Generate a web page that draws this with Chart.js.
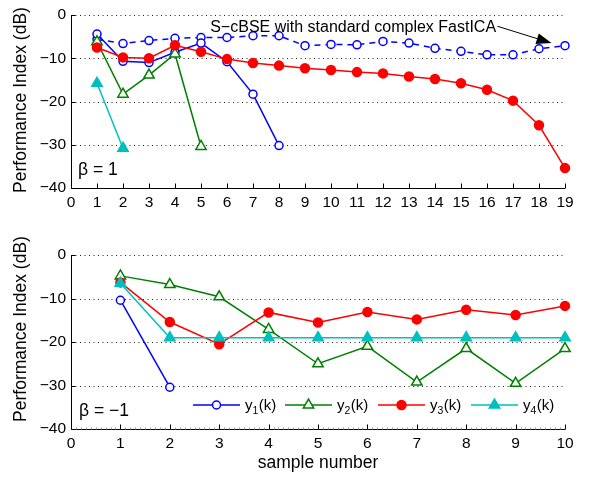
<!DOCTYPE html>
<html>
<head>
<meta charset="utf-8">
<script src="https://cdn.jsdelivr.net/npm/chart.js@4.4.1/dist/chart.umd.min.js"></script>
<style>
  html, body { margin: 0; padding: 0; background: #fff; }
  #wrap { position: relative; width: 591px; height: 477px; }
  #topChart { position: absolute; left: 0; top: 0; }
  #botChart { position: absolute; left: 0; top: 236px; }
</style>
</head>
<body>
<div id="wrap">
  <canvas id="topChart" width="591" height="236"></canvas>
  <canvas id="botChart" width="591" height="241"></canvas>
</div>
<script>
// ---- data ----
const topSamples = [1, 2, 3, 4, 5, 6, 7, 8, 9, 10, 11, 12, 13, 14, 15, 16, 17, 18, 19];
const topY1 = [-4.4, -10.7, -11.0, -8.6, -6.5, -10.8, -18.3, -30.2];
const topY2 = [-6.2, -18.3, -13.9, -9.0, -30.4];
const topY3 = [-7.5, -9.8, -10.0, -7.0, -8.5, -10.2, -11.1, -11.7, -12.3, -12.7,
               -13.2, -13.5, -14.2, -14.8, -15.8, -17.3, -19.8, -25.5, -35.4];
const topY4 = [-15.8, -30.8];
const topFastICA = [-5.6, -6.6, -5.9, -5.4, -5.2, -5.2, -4.8, -4.8, -7.1, -6.8,
                    -6.9, -6.1, -6.5, -7.7, -8.4, -9.2, -9.2, -7.8, -7.1];

const botSamples = [1, 2, 3, 4, 5, 6, 7, 8, 9, 10];
const botY1 = [-10.4, -30.4];
const botY2 = [-4.8, -6.8, -9.6, -17.1, -25.0, -21.0, -29.2, -21.5, -29.5, -21.5];
const botY3 = [-6.3, -15.4, -20.5, -13.2, -15.5, -13.1, -14.8, -12.6, -13.8, -11.7];
const botY4 = [-6.5, -19.0, -19.0, -19.0, -19.0, -19.0, -19.0, -19.0, -19.0, -19.0];

const yTicks = [0, -10, -20, -30, -40];
const seriesNames = ["1", "2", "3", "4"];   // subscripts of y_i(k)
const annotationText = "S\u2212cBSE with standard complex FastICA";
// annotation anchors in data units (top panel)
const annoText = { x: 16.35, y: -3.85 };
const annoTail = { x: 16.4, y: -2.6 };
const annoTip = { x: 18.48, y: -6.5 };

const FONT = "'Liberation Sans', Arial, Helvetica, sans-serif";
const BLUE = "#0000ff", GREEN = "#008000", RED = "#ff0000", CYAN = "#00bfbf";

const toXY = (xs, ys) => ys.map((v, i) => ({ x: xs[i], y: v }));
const minus = v => (v < 0 ? "\u2212" + Math.abs(v) : String(v));

function series(data, color, style, filled, order, dashed) {
  return {
    data: data,
    borderColor: color,
    borderWidth: 1.5,
    borderDash: dashed ? [6, 5] : [],
    pointStyle: style,
    pointRadius: style === "triangle" ? 6 : (filled ? 4.5 : 4),
    pointBorderWidth: 1.5,
    pointBorderColor: color,
    pointBackgroundColor: filled ? color : "#ffffff",
    tension: 0,
    fill: false,
    clip: false,
    order: order
  };
}

// axes frame, dotted grid, inward ticks
const framePlugin = {
  id: "frame",
  beforeDatasetsDraw(chart, args, opts) {
    const { ctx, chartArea: a, scales } = chart;
    const x = scales.x, y = scales.y;
    ctx.save();
    ctx.strokeStyle = "#222";
    ctx.lineWidth = 1;
    ctx.setLineDash([1, 3.5]);
    yTicks.forEach(t => {
      if (t === -40) return;
      const py = Math.round(y.getPixelForValue(t)) + 0.5;
      ctx.beginPath(); ctx.moveTo(a.left, py); ctx.lineTo(a.right, py); ctx.stroke();
    });
    ctx.setLineDash([]);
    ctx.strokeStyle = "#000";
    const l = Math.round(a.left) + 0.5, b = Math.round(a.bottom) + 0.5;
    ctx.beginPath(); ctx.moveTo(l, a.top); ctx.lineTo(l, b); ctx.lineTo(a.right, b); ctx.stroke();
    // minor ticks
    if (opts.minor) {
      ctx.strokeStyle = "#999";
      for (let v = x.min; v <= x.max + 1e-6; v += opts.minor) {
        const px = Math.round(x.getPixelForValue(v)) + 0.5;
        ctx.beginPath(); ctx.moveTo(px, b); ctx.lineTo(px, b - 2); ctx.stroke();
      }
      ctx.strokeStyle = "#000";
    }
    for (let v = x.min; v <= x.max; v++) {
      const px = Math.round(x.getPixelForValue(v)) + 0.5;
      ctx.beginPath(); ctx.moveTo(px, b); ctx.lineTo(px, b - 5); ctx.stroke();
    }
    yTicks.forEach(t => {
      const py = Math.round(y.getPixelForValue(t)) + 0.5;
      ctx.beginPath(); ctx.moveTo(l, py); ctx.lineTo(l + 4, py); ctx.stroke();
    });
    ctx.restore();
  },
  afterDraw(chart, args, opts) {
    const { ctx, chartArea: a } = chart;
    ctx.save();
    ctx.fillStyle = "#000";
    // y-axis title
    ctx.font = "17.5px " + FONT;
    ctx.translate(21.5, opts.yTitleY);
    ctx.rotate(-Math.PI / 2);
    ctx.textAlign = "center";
    ctx.textBaseline = "middle";
    ctx.fillText("Performance Index (dB)", 0, 0);
    ctx.restore();
    // beta label
    ctx.save();
    ctx.font = "17.5px " + FONT;
    ctx.fillStyle = "#000";
    ctx.textAlign = "left";
    ctx.textBaseline = "alphabetic";
    ctx.fillText(opts.beta, a.left + opts.betaDx, a.bottom - 13);
    ctx.restore();
  }
};

const annotationPlugin = {
  id: "anno",
  afterDraw(chart) {
    const { ctx, scales } = chart;
    const x = scales.x, y = scales.y;
    ctx.save();
    ctx.font = "16px " + FONT;
    ctx.fillStyle = "#000";
    ctx.textAlign = "right";
    ctx.textBaseline = "alphabetic";
    ctx.fillText(annotationText, x.getPixelForValue(annoText.x), y.getPixelForValue(annoText.y));
    const x0 = x.getPixelForValue(annoTail.x), y0 = y.getPixelForValue(annoTail.y);
    const x1 = x.getPixelForValue(annoTip.x), y1 = y.getPixelForValue(annoTip.y);
    const ang = Math.atan2(y1 - y0, x1 - x0);
    const hl = 15, hw = 5.5;
    const bx = x1 - hl * Math.cos(ang), by = y1 - hl * Math.sin(ang);
    ctx.strokeStyle = "#000";
    ctx.lineWidth = 1;
    ctx.beginPath(); ctx.moveTo(x0, y0); ctx.lineTo(bx, by); ctx.stroke();
    ctx.beginPath();
    ctx.moveTo(x1, y1);
    ctx.lineTo(bx + hw * Math.sin(ang), by - hw * Math.cos(ang));
    ctx.lineTo(bx - hw * Math.sin(ang), by + hw * Math.cos(ang));
    ctx.closePath();
    ctx.fill();
    ctx.restore();
  }
};

const legendPlugin = {
  id: "customLegend",
  afterDraw(chart) {
    const ctx = chart.ctx;
    const ds = chart.data.datasets;
    const startX = [193, 285, 378, 471];
    const ly = 169;
    ctx.save();
    ds.forEach((d, i) => {
      const x0 = startX[i], x1 = x0 + 47, mx = (x0 + x1) / 2;
      ctx.strokeStyle = d.borderColor;
      ctx.lineWidth = 1.5;
      ctx.beginPath(); ctx.moveTo(x0, ly); ctx.lineTo(x1, ly); ctx.stroke();
      ctx.fillStyle = d.pointBackgroundColor;
      ctx.beginPath();
      if (d.pointStyle === "triangle") {
        const r = d.pointRadius;
        ctx.moveTo(mx, ly - r);
        ctx.lineTo(mx + r * 0.866, ly + r * 0.5);
        ctx.lineTo(mx - r * 0.866, ly + r * 0.5);
        ctx.closePath();
      } else {
        ctx.arc(mx, ly, d.pointRadius, 0, Math.PI * 2);
      }
      ctx.fill(); ctx.stroke();
      // label y_i(k)
      ctx.fillStyle = "#000";
      ctx.textAlign = "left";
      ctx.textBaseline = "alphabetic";
      let tx = x1 + 5;
      const base = ly + 5;
      ctx.font = "15px " + FONT;
      ctx.fillText("y", tx, base);
      tx += ctx.measureText("y").width;
      ctx.font = "10.5px " + FONT;
      ctx.fillText(seriesNames[i], tx, base + 3.5);
      tx += ctx.measureText(seriesNames[i]).width + 0.5;
      ctx.font = "15px " + FONT;
      ctx.fillText("(k)", tx, base);
    });
    // x-axis title
    ctx.font = "17.5px " + FONT;
    ctx.textAlign = "center";
    ctx.textBaseline = "middle";
    ctx.fillText("sample number", 318, 227);
    ctx.restore();
  }
};

function scalesFor(xMax, xHeight) {
  return {
    x: {
      type: "linear", min: 0, max: xMax,
      ticks: { stepSize: 1, color: "#000", font: { family: FONT, size: 15.5 }, padding: 5,
               maxRotation: 0, autoSkip: false },
      grid: { display: false, drawTicks: false },
      border: { display: false },
      afterFit: s => { s.height = xHeight; }
    },
    y: {
      min: -40, max: 0,
      ticks: { stepSize: 10, color: "#000", font: { family: FONT, size: 15.5 }, padding: 5,
               callback: v => minus(v) },
      grid: { display: false, drawTicks: false },
      border: { display: false },
      afterFit: s => { s.width = 71; }
    }
  };
}

new Chart(document.getElementById("topChart"), {
  type: "line",
  data: {
    datasets: [
      series(toXY(topSamples, topY1), BLUE, "circle", false, 4, false),
      series(toXY(topSamples, topY2), GREEN, "triangle", false, 3, false),
      series(toXY(topSamples, topY3), RED, "circle", true, 2, false),
      series(toXY(topSamples, topY4), CYAN, "triangle", true, 1, false),
      series(toXY(topSamples, topFastICA), BLUE, "circle", false, 5, true)
    ]
  },
  options: {
    responsive: false,
    animation: false,
    events: [],
    layout: { padding: { top: 15, right: 26, left: 0, bottom: 0 } },
    scales: scalesFor(19, 48),
    plugins: {
      legend: { display: false },
      tooltip: { enabled: false },
      frame: { yTitleY: 100, beta: "\u03b2 = 1", betaDx: 7 }
    }
  },
  plugins: [framePlugin, annotationPlugin]
});

new Chart(document.getElementById("botChart"), {
  type: "line",
  data: {
    datasets: [
      series(toXY(botSamples, botY1), BLUE, "circle", false, 4, false),
      series(toXY(botSamples, botY2), GREEN, "triangle", false, 3, false),
      series(toXY(botSamples, botY3), RED, "circle", true, 2, false),
      series(toXY(botSamples, botY4), CYAN, "triangle", true, 1, false)
    ]
  },
  options: {
    responsive: false,
    animation: false,
    events: [],
    layout: { padding: { top: 19, right: 26, left: 0, bottom: 0 } },
    scales: scalesFor(10, 48),
    plugins: {
      legend: { display: false },
      tooltip: { enabled: false },
      frame: { yTitleY: 93, beta: "\u03b2 = \u22121", betaDx: 8, minor: 0.1 }
    }
  },
  plugins: [framePlugin, legendPlugin]
});
</script>
</body>
</html>
